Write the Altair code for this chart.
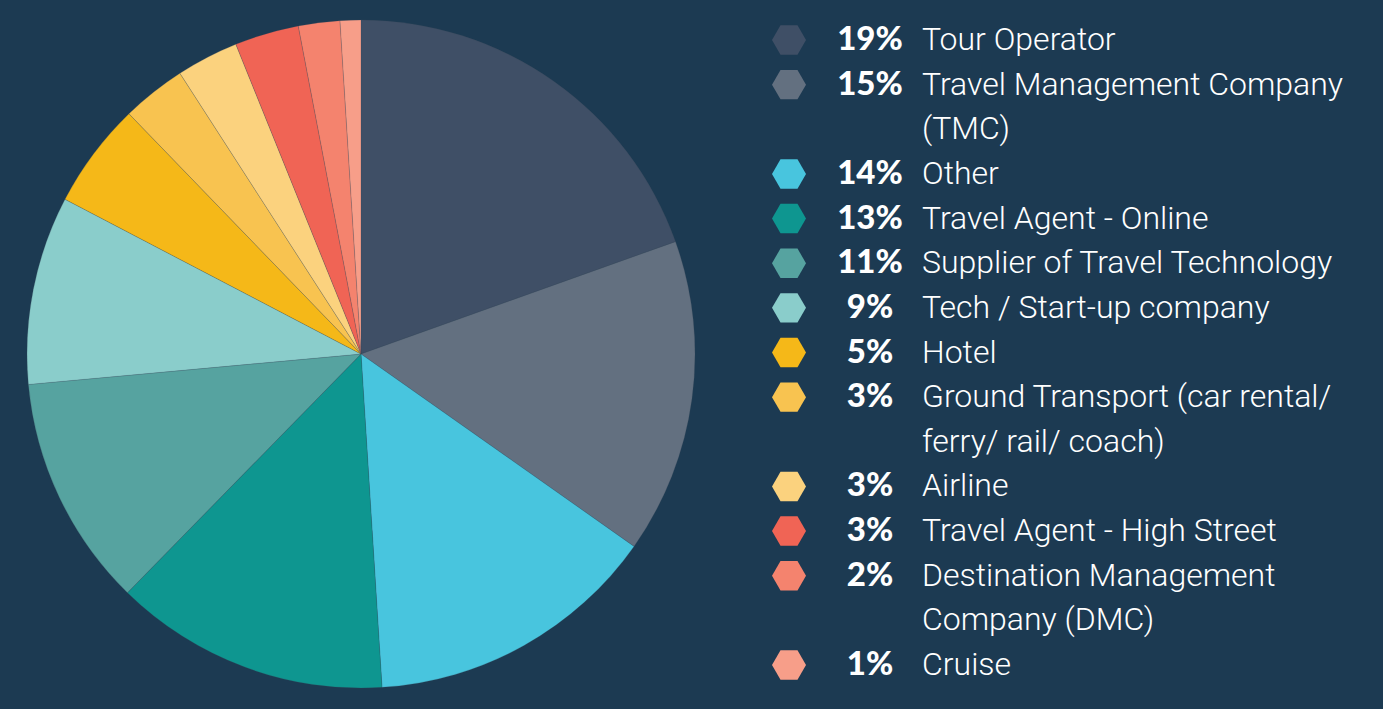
import altair as alt
import pandas as pd

categories = ["Tour Operator", "Travel Management Company (TMC)", "Other", "Travel Agent - Online",
              "Supplier of Travel Technology", "Tech / Start-up company", "Hotel",
              "Ground Transport (car rental/ ferry/ rail/ coach)", "Airline",
              "Travel Agent - High Street", "Destination Management Company (DMC)", "Cruise"]
shares = [19.5, 15.2, 14.2, 13.3, 11.2, 9.1, 5.1, 3.1, 3.0, 3.1, 2.0, 1.0]
pct_labels = ["19%", "15%", "14%", "13%", "11%", "9%", "5%", "3%", "3%", "3%", "2%", "1%"]
label_lines = [["Tour Operator"], ["Travel Management Company", "(TMC)"], ["Other"],
               ["Travel Agent - Online"], ["Supplier of Travel Technology"],
               ["Tech / Start-up company"], ["Hotel"],
               ["Ground Transport (car rental/", "ferry/ rail/ coach)"], ["Airline"],
               ["Travel Agent - High Street"], ["Destination Management", "Company (DMC)"], ["Cruise"]]
colors = ["#3F4F66", "#637080", "#48C5DE", "#0E9690", "#56A3A0", "#8ACDCB",
          "#F5B818", "#F8C350", "#FBD27E", "#F06455", "#F4836E", "#F79E89"]
BG = "#1C3A52"

pie_df = pd.DataFrame({"cat": categories, "share": shares, "idx": list(range(len(categories)))})

rows = []
line = 0
for i, (cat, pct, lines) in enumerate(zip(categories, pct_labels, label_lines)):
    for j, t in enumerate(lines):
        rows.append({"cat": cat, "line": line, "text": t, "first": j == 0, "pct": pct})
        line += 1
leg_df = pd.DataFrame(rows)
n_lines = line

color_scale = alt.Scale(domain=categories, range=colors)
y_scale = alt.Scale(domain=[0, n_lines - 1], range=[40, 665])

pie = alt.Chart(pie_df).mark_arc(outerRadius=334, stroke="#3a4a58", strokeWidth=0.4,
                                 strokeOpacity=0.5).encode(
    theta=alt.Theta("share:Q", stack=True),
    order=alt.Order("idx:Q"),
    color=alt.Color("cat:N", scale=color_scale, legend=None),
    x=alt.value(361), y=alt.value(354),
)

hexpath = "M-1,0 L-0.5,-0.866 L0.5,-0.866 L1,0 L0.5,0.866 L-0.5,0.866 Z"
first_rows = alt.Chart(leg_df).transform_filter("datum.first")

hexes = first_rows.mark_point(shape=hexpath, filled=True, opacity=1, size=1156, strokeWidth=0).encode(
    x=alt.value(789),
    y=alt.Y("line:Q", scale=y_scale, axis=None),
    color=alt.Color("cat:N", scale=color_scale, legend=None),
)

pcts = first_rows.mark_text(align="center", baseline="middle", font="Lato", fontWeight=900,
                            fontSize=33, color="white").encode(
    x=alt.value(870),
    y=alt.Y("line:Q", scale=y_scale, axis=None),
    text="pct:N",
)

labels = alt.Chart(leg_df).mark_text(align="left", baseline="middle", font="Roboto", fontWeight=300,
                                     fontSize=32, color="white").encode(
    x=alt.value(922),
    y=alt.Y("line:Q", scale=y_scale, axis=None),
    text="text:N",
)

chart = alt.layer(pie, hexes, pcts, labels).properties(
    width=1383, height=709, background=BG, padding=0,
    autosize=alt.AutoSizeParams(type="none"),
).configure_view(stroke=None)

chart.save("out.html", embed_options={"renderer": "svg", "actions": False})
